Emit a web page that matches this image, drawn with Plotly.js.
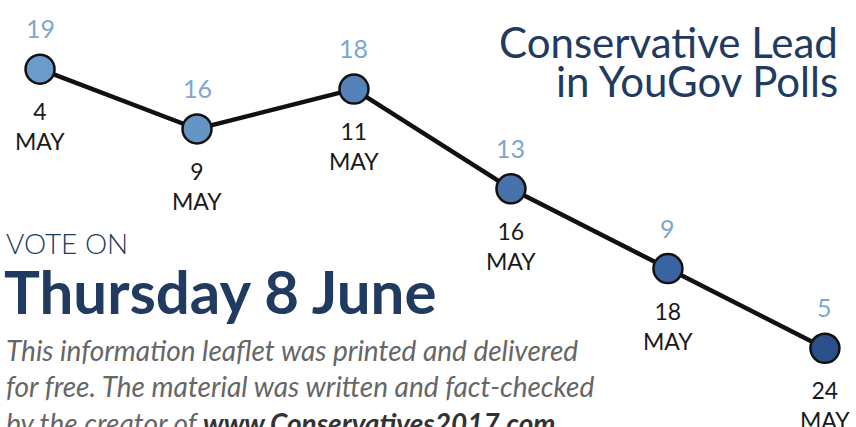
<!DOCTYPE html>
<html>
<head>
<meta charset="utf-8">
<script src="https://cdn.plot.ly/plotly-3.0.1.min.js"></script>
<style>html,body{margin:0;padding:0;background:#fff;}#chart{width:856px;height:427px;}</style>
</head>
<body>
<div id="chart"></div>
<script>
const dayLabels = ["4", "9", "11", "16", "18", "24"];
const monthLabels = ["MAY", "MAY", "MAY", "MAY", "MAY", "MAY"];
const leadValues = [19, 16, 18, 13, 9, 5];
const markerColors = ["#6b9bc9", "#6495c5", "#5482b9", "#4873aa", "#3a64a0", "#2b5089"];

const categories = dayLabels.map((d, i) => d + " " + monthLabels[i]);

const trace = {
  type: "scatter",
  mode: "lines+markers",
  x: categories,
  y: leadValues,
  line: {color: "#111111", width: 4.5},
  marker: {size: 29, color: markerColors, line: {color: "#111111", width: 2.5}},
  hoverinfo: "skip",
  cliponaxis: false
};

const annotations = [];
categories.forEach((c, i) => {
  annotations.push({
    x: c, y: leadValues[i], xref: "x", yref: "y",
    text: String(leadValues[i]), showarrow: false, yshift: 41,
    font: {family: "Lato, sans-serif", size: 25, color: "#7ea7cf"}
  });
  annotations.push({
    x: c, y: leadValues[i], xref: "x", yref: "y",
    text: dayLabels[i] + "<br>" + monthLabels[i], showarrow: false, yshift: -57,
    font: {family: "Lato, sans-serif", size: 23, color: "#1a1a1a"}
  });
});

const navy = "#213a5f";
const grey = "#666666";
function paperText(x, yPix, text, font, xanchor) {
  return {xref: "paper", yref: "paper", x: x / 856, y: 1 - yPix / 427,
          xanchor: xanchor || "left", yanchor: "middle", text: text, showarrow: false, font: font};
}
annotations.push(
  paperText(840, 42, "Conservative Lead", {family: "Lato, sans-serif", size: 42, color: navy}, "right"),
  paperText(840, 81, "in YouGov Polls", {family: "Lato, sans-serif", size: 42, color: navy}, "right"),
  paperText(4, 243, "VOTE ON", {family: "Lato, sans-serif", size: 28, color: navy, weight: 300}),
  paperText(2, 291, "<b>Thursday 8 June</b>", {family: "Lato, sans-serif", size: 60, color: navy, weight: 900}),
  paperText(4, 350, "<i>This information leaflet was printed and delivered</i>", {family: "Lato, sans-serif", size: 28, color: grey}),
  paperText(4, 386, "<i>for free. The material was written and fact-checked</i>", {family: "Lato, sans-serif", size: 28, color: grey}),
  paperText(4, 423, "<i>by the creator of <span style=\"color:#333333\"><b>www.Conservatives2017.com</b></span></i>", {family: "Lato, sans-serif", size: 28, color: grey})
);

const layout = {
  width: 856, height: 427,
  margin: {l: 0, r: 0, t: 0, b: 0},
  paper_bgcolor: "#ffffff", plot_bgcolor: "#ffffff",
  showlegend: false,
  xaxis: {type: "category", range: [-0.255, 5.198], visible: false, fixedrange: true},
  yaxis: {range: [1.05, 22.47], visible: false, fixedrange: true},
  annotations: annotations
};

Plotly.newPlot("chart", [trace], layout, {displayModeBar: false, staticPlot: true});
</script>
</body>
</html>
